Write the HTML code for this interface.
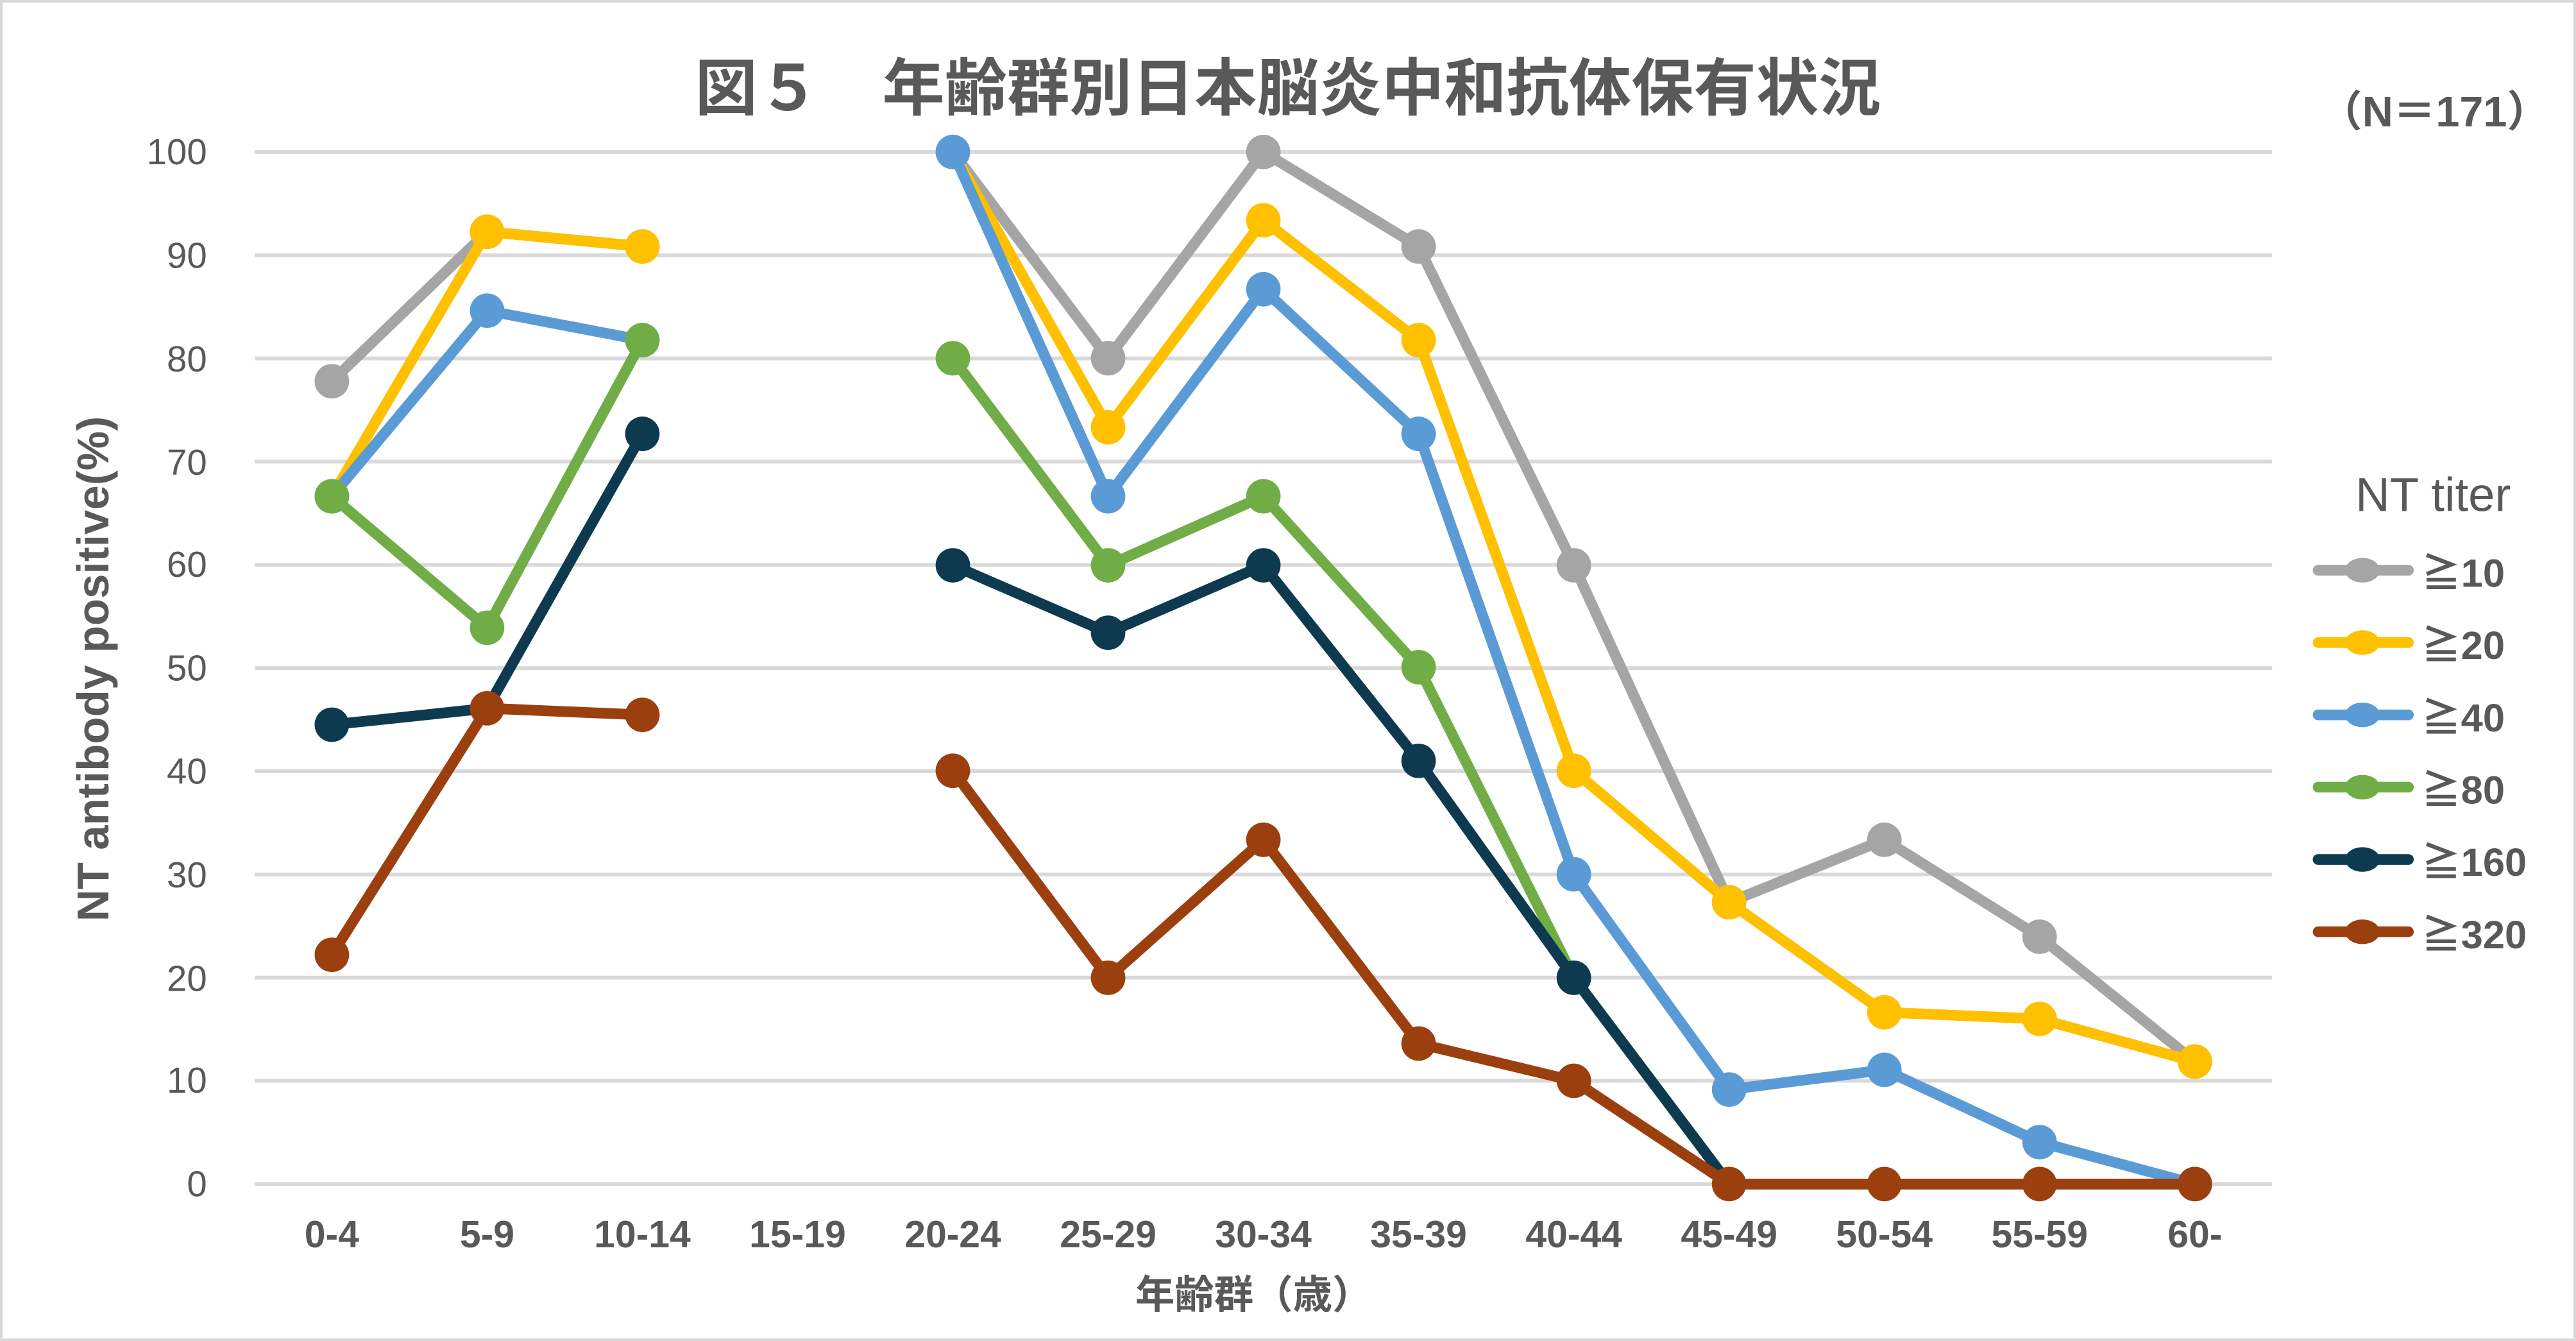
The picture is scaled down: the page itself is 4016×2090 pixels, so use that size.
<!DOCTYPE html>
<html><head><meta charset="utf-8"><style>
html,body{margin:0;padding:0;background:#fff;width:4016px;height:2090px;overflow:hidden;}
svg{display:block;}
text{font-family:"Liberation Sans","Noto Sans CJK JP",sans-serif;fill:#595959;}
</style></head><body>
<svg width="4016" height="2090" viewBox="0 0 1568 816" xmlns="http://www.w3.org/2000/svg">
<rect x="0.8" y="0.8" width="1566.4" height="814.4" fill="#fff" stroke="#d9d9d9" stroke-width="1.6"/>
<text x="784" y="67" text-anchor="middle" font-size="38" font-weight="bold">図５　年齢群別日本脳炎中和抗体保有状況</text>
<text x="1552" y="77" text-anchor="end" font-size="26" font-weight="bold">（N＝171）</text>
<g stroke="#d9d9d9" stroke-width="2.3">
<line x1="155" x2="1383" y1="92.5" y2="92.5"/><line x1="155" x2="1383" y1="155.3" y2="155.3"/>
<line x1="155" x2="1383" y1="218.1" y2="218.1"/><line x1="155" x2="1383" y1="280.9" y2="280.9"/>
<line x1="155" x2="1383" y1="343.7" y2="343.7"/><line x1="155" x2="1383" y1="406.5" y2="406.5"/>
<line x1="155" x2="1383" y1="469.3" y2="469.3"/><line x1="155" x2="1383" y1="532.1" y2="532.1"/>
<line x1="155" x2="1383" y1="594.9" y2="594.9"/><line x1="155" x2="1383" y1="657.7" y2="657.7"/>
<line x1="155" x2="1383" y1="720.5" y2="720.5"/>
</g>
<g font-size="22" text-anchor="end">
<text x="126" y="100">100</text><text x="126" y="163">90</text><text x="126" y="226">80</text>
<text x="126" y="289">70</text><text x="126" y="351">60</text><text x="126" y="414">50</text>
<text x="126" y="477">40</text><text x="126" y="540">30</text><text x="126" y="603">20</text>
<text x="126" y="665">10</text><text x="126" y="728">0</text>
</g>
<g font-size="23" font-weight="bold" text-anchor="middle">
<text x="202" y="759">0-4</text><text x="296.5" y="759">5-9</text><text x="391" y="759">10-14</text>
<text x="485.5" y="759">15-19</text><text x="580" y="759">20-24</text><text x="674.5" y="759">25-29</text>
<text x="769" y="759">30-34</text><text x="863.5" y="759">35-39</text><text x="958" y="759">40-44</text>
<text x="1052.5" y="759">45-49</text><text x="1147" y="759">50-54</text><text x="1241.5" y="759">55-59</text>
<text x="1336" y="759">60-</text>
</g>
<text x="763" y="796" text-anchor="middle" font-size="24" font-weight="bold">年齢群（歳）</text>
<text transform="translate(66,407) rotate(-90)" text-anchor="middle" font-size="27" font-weight="bold">NT antibody positive(%)</text>
<g fill="none" stroke-width="6.5" stroke-linejoin="round" stroke-linecap="round">
<polyline stroke="#a5a5a5" points="202,232 296.5,141 391,150"/>
<polyline stroke="#a5a5a5" points="580,92.5 674.5,218 769,92.5 863.5,150 958,344 1052.5,549 1147,511 1241.5,570 1336,646"/>
<polyline stroke="#ffc000" points="202,302 296.5,141 391,150"/>
<polyline stroke="#ffc000" points="580,92.5 674.5,260 769,134 863.5,207 958,469 1052.5,549 1147,616 1241.5,620 1336,646"/>
<polyline stroke="#5b9bd5" points="202,302 296.5,189 391,207"/>
<polyline stroke="#5b9bd5" points="580,92.5 674.5,302 769,176 863.5,264 958,532 1052.5,663 1147,651 1241.5,695 1336,720.5"/>
<polyline stroke="#70ad47" points="202,302 296.5,382 391,207"/>
<polyline stroke="#70ad47" points="580,218 674.5,344 769,302 863.5,406 958,595 1052.5,720.5"/>
<polyline stroke="#0e3a50" points="202,441 296.5,431 391,264"/>
<polyline stroke="#0e3a50" points="580,344 674.5,385 769,344 863.5,463 958,595 1052.5,720.5 1147,720.5 1241.5,720.5 1336,720.5"/>
<polyline stroke="#9c3f0f" points="202,581 296.5,431 391,435"/>
<polyline stroke="#9c3f0f" points="580,469 674.5,595 769,511 863.5,635 958,657.7 1052.5,720.5 1147,720.5 1241.5,720.5 1336,720.5"/>
</g>
<g fill="#a5a5a5"><circle cx="202" cy="232" r="10.5"/><circle cx="296.5" cy="141" r="10.5"/><circle cx="391" cy="150" r="10.5"/><circle cx="580" cy="92.5" r="10.5"/><circle cx="674.5" cy="218" r="10.5"/><circle cx="769" cy="92.5" r="10.5"/><circle cx="863.5" cy="150" r="10.5"/><circle cx="958" cy="344" r="10.5"/><circle cx="1052.5" cy="549" r="10.5"/><circle cx="1147" cy="511" r="10.5"/><circle cx="1241.5" cy="570" r="10.5"/><circle cx="1336" cy="646" r="10.5"/></g>
<g fill="#ffc000"><circle cx="202" cy="302" r="10.5"/><circle cx="296.5" cy="141" r="10.5"/><circle cx="391" cy="150" r="10.5"/><circle cx="580" cy="92.5" r="10.5"/><circle cx="674.5" cy="260" r="10.5"/><circle cx="769" cy="134" r="10.5"/><circle cx="863.5" cy="207" r="10.5"/><circle cx="958" cy="469" r="10.5"/><circle cx="1052.5" cy="549" r="10.5"/><circle cx="1147" cy="616" r="10.5"/><circle cx="1241.5" cy="620" r="10.5"/><circle cx="1336" cy="646" r="10.5"/></g>
<g fill="#5b9bd5"><circle cx="202" cy="302" r="10.5"/><circle cx="296.5" cy="189" r="10.5"/><circle cx="391" cy="207" r="10.5"/><circle cx="580" cy="92.5" r="10.5"/><circle cx="674.5" cy="302" r="10.5"/><circle cx="769" cy="176" r="10.5"/><circle cx="863.5" cy="264" r="10.5"/><circle cx="958" cy="532" r="10.5"/><circle cx="1052.5" cy="663" r="10.5"/><circle cx="1147" cy="651" r="10.5"/><circle cx="1241.5" cy="695" r="10.5"/><circle cx="1336" cy="720.5" r="10.5"/></g>
<g fill="#70ad47"><circle cx="202" cy="302" r="10.5"/><circle cx="296.5" cy="382" r="10.5"/><circle cx="391" cy="207" r="10.5"/><circle cx="580" cy="218" r="10.5"/><circle cx="674.5" cy="344" r="10.5"/><circle cx="769" cy="302" r="10.5"/><circle cx="863.5" cy="406" r="10.5"/></g>
<g fill="#0e3a50"><circle cx="202" cy="441" r="10.5"/><circle cx="391" cy="264" r="10.5"/><circle cx="580" cy="344" r="10.5"/><circle cx="674.5" cy="385" r="10.5"/><circle cx="769" cy="344" r="10.5"/><circle cx="863.5" cy="463" r="10.5"/><circle cx="958" cy="595" r="10.5"/></g>
<g fill="#9c3f0f"><circle cx="202" cy="581" r="10.5"/><circle cx="296.5" cy="431" r="10.5"/><circle cx="391" cy="435" r="10.5"/><circle cx="580" cy="469" r="10.5"/><circle cx="674.5" cy="595" r="10.5"/><circle cx="769" cy="511" r="10.5"/><circle cx="863.5" cy="635" r="10.5"/><circle cx="958" cy="657.7" r="10.5"/><circle cx="1052.5" cy="720.5" r="10.5"/><circle cx="1147" cy="720.5" r="10.5"/><circle cx="1241.5" cy="720.5" r="10.5"/><circle cx="1336" cy="720.5" r="10.5"/></g>
<text x="1481" y="311" text-anchor="middle" font-size="29">NT titer</text>
<g stroke-width="6.5" stroke-linecap="round">
<line x1="1411" x2="1466" y1="347" y2="347" stroke="#a5a5a5"/>
<line x1="1411" x2="1466" y1="391" y2="391" stroke="#ffc000"/>
<line x1="1411" x2="1466" y1="435" y2="435" stroke="#5b9bd5"/>
<line x1="1411" x2="1466" y1="479" y2="479" stroke="#70ad47"/>
<line x1="1411" x2="1466" y1="523" y2="523" stroke="#0e3a50"/>
<line x1="1411" x2="1466" y1="567" y2="567" stroke="#9c3f0f"/>
</g>
<ellipse cx="1438" cy="347" rx="10.5" ry="7.5" fill="#a5a5a5"/>
<ellipse cx="1438" cy="391" rx="10.5" ry="7.5" fill="#ffc000"/>
<ellipse cx="1438" cy="435" rx="10.5" ry="7.5" fill="#5b9bd5"/>
<ellipse cx="1438" cy="479" rx="10.5" ry="7.5" fill="#70ad47"/>
<ellipse cx="1438" cy="523" rx="10.5" ry="7.5" fill="#0e3a50"/>
<ellipse cx="1438" cy="567" rx="10.5" ry="7.5" fill="#9c3f0f"/>
<g font-size="24" font-weight="bold">
<text x="1474" y="357">≧10</text><text x="1474" y="401">≧20</text><text x="1474" y="445">≧40</text>
<text x="1474" y="489">≧80</text><text x="1474" y="533">≧160</text><text x="1474" y="577">≧320</text>
</g>
</svg>
</body></html>
